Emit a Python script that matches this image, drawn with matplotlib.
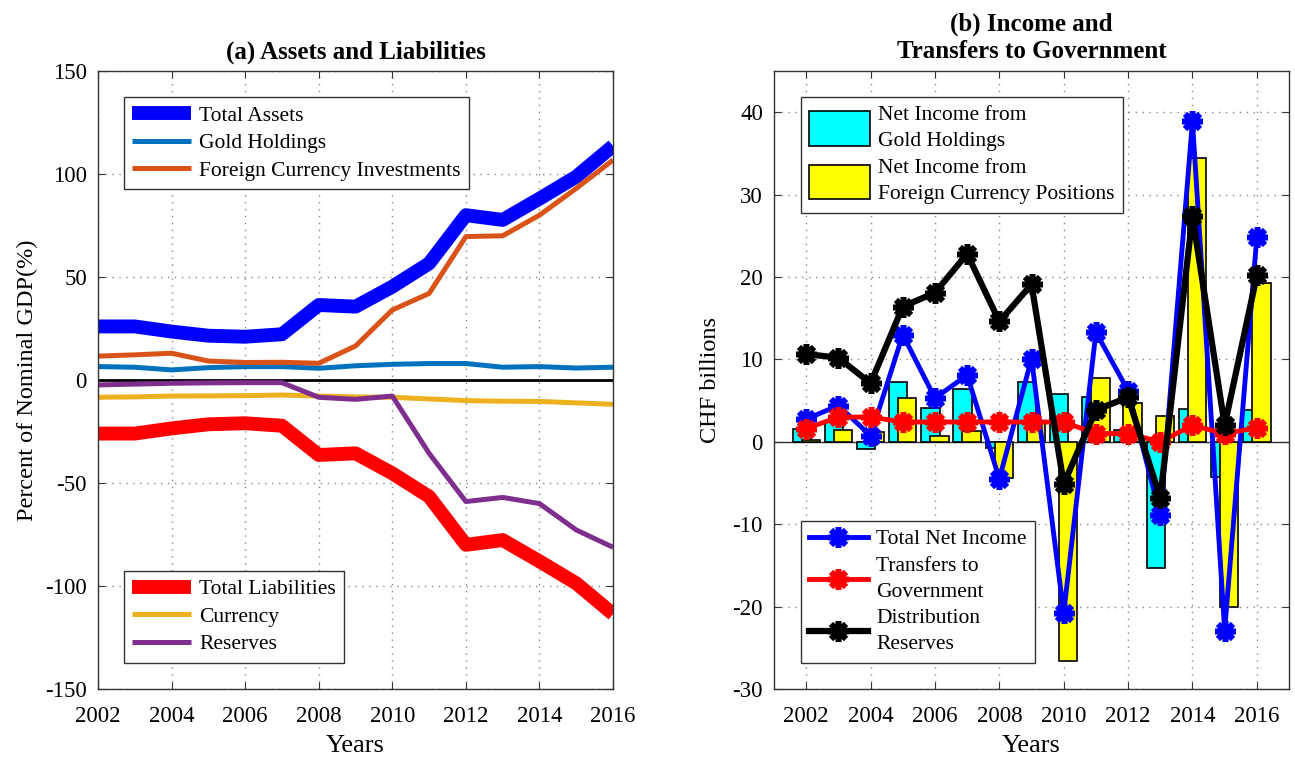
import numpy as np
import matplotlib
matplotlib.use("Agg")
from matplotlib import pyplot as plt

plt.rcParams['font.family'] = ['Liberation Serif', 'DejaVu Serif']
plt.rcParams['axes.unicode_minus'] = False

# Data
years = np.arange(2002, 2017)

# (a) percent of nominal GDP
total_assets = [26, 26, 23.5, 21.5, 21, 22.2, 36.4, 35.6, 45.3, 56.6, 80, 77.7, 88, 98.7, 113.6]
gold_holdings = [6.5, 6.2, 4.9, 6, 6.5, 6.5, 5.7, 6.9, 7.6, 8, 8, 6.2, 6.5, 5.8, 6.2]
foreign_inv = [11.6, 12.2, 13, 9.2, 8.5, 8.6, 8.1, 16.5, 34, 42, 69.6, 70, 80, 93, 106.8]
total_liab = [-26, -26, -23.5, -21.5, -21, -22.2, -36.4, -35.6, -45.3, -56.6, -80, -77.7, -88, -98.7, -113.6]
currency = [-8.4, -8.2, -7.8, -7.7, -7.6, -7.3, -7.8, -8.2, -8.4, -9.2, -10, -10.3, -10.4, -11.1, -11.8]
reserves = [-2.4, -2.0, -1.6, -1.4, -1.3, -1.3, -8.4, -9.4, -7.8, -35.6, -59, -57, -60, -72.8, -81.2]

# (b) CHF billions
gold_income = [1.5, 2.5, -0.9, 7.3, 4.1, 6.4, -0.7, 7.3, 5.8, 5.4, 1.4, -15.3, 4.0, -4.25, 3.9]
fx_income = [0.2, 1.4, 1.2, 5.3, 0.75, 1.3, -4.45, 2.3, -26.6, 7.8, 4.7, 3.1, 34.4, -20, 19.3]
total_net_income = [2.75, 4.4, 0.73, 13, 5.3, 8.1, -4.5, 10.1, -20.8, 13.3, 6.2, -8.9, 38.9, -22.9, 24.9]
transfers = [1.6, 3.0, 3.0, 2.4, 2.4, 2.4, 2.4, 2.4, 2.4, 1.0, 1.0, 0.0, 2.0, 1.0, 1.7]
distribution_reserves = [10.65, 10.2, 7.1, 16.4, 18.1, 22.8, 14.6, 19.1, -5.1, 3.85, 5.4, -6.8, 27.4, 2.0, 20.2]

fig = plt.figure(figsize=(12.95, 7.59), dpi=100)
ax1 = fig.add_axes([0.0757, 0.0922, 0.3977, 0.8143])
ax2 = fig.add_axes([0.5977, 0.0922, 0.3977, 0.8143])

fs = 15.5
tfs = 16.5

def style_axes(ax):
    ax.grid(True, linestyle=(0, (1, 4)), color='#888888', linewidth=1.0)
    ax.set_axisbelow(True)
    ax.tick_params(direction='in', top=True, right=True, labelsize=tfs, length=5,
                   color='#333333', pad=8)
    ax.tick_params(axis='x', pad=12)
    for s in ax.spines.values():
        s.set_color('#333333')
        s.set_linewidth(1.0)

def tidy_legend(leg, ls=1.3):
    leg.get_frame().set_linewidth(1.0)
    for t in leg.get_texts():
        t.set_linespacing(ls)

leg_kw = dict(fontsize=fs, frameon=True, fancybox=False, edgecolor='#333333',
              framealpha=1, handlelength=2.7, borderpad=0.4, labelspacing=0.35,
              handletextpad=0.4, borderaxespad=0)
ln = dict(solid_capstyle='butt', solid_joinstyle='round')

# ---- (a)
ax1.axhline(0, color='black', linewidth=2, zorder=1)
l1, = ax1.plot(years, total_assets, color=(0, 0, 1), linewidth=10, **ln)
l2, = ax1.plot(years, gold_holdings, color='#0072BD', linewidth=3.6, **ln)
l3, = ax1.plot(years, foreign_inv, color='#D95319', linewidth=3.6, **ln)
l4, = ax1.plot(years, total_liab, color=(1, 0, 0), linewidth=10, **ln)
l5, = ax1.plot(years, currency, color='#EDB120', linewidth=3.6, **ln)
l6, = ax1.plot(years, reserves, color='#7E2F8E', linewidth=3.6, **ln)
ax1.set_xlim(2002, 2016)
ax1.set_ylim(-150, 150)
ax1.set_xticks(np.arange(2002, 2017, 2))
ax1.set_yticks(np.arange(-150, 151, 50))
style_axes(ax1)
ax1.set_title("(a) Assets and Liabilities", fontsize=18, fontweight='bold', pad=9)
ax1.set_xlabel("Years", fontsize=19, labelpad=6)
ax1.set_ylabel("Percent of Nominal GDP(%)", fontsize=17.5, labelpad=5)

lega = ax1.legend([l1, l2, l3], ["Total Assets", "Gold Holdings", "Foreign Currency Investments"],
                  loc='upper left', bbox_to_anchor=(0.05, 0.958), **leg_kw)
tidy_legend(lega)
ax1.add_artist(lega)
legb = ax1.legend([l4, l5, l6], ["Total Liabilities", "Currency", "Reserves"],
                  loc='lower left', bbox_to_anchor=(0.05, 0.042), **leg_kw)
tidy_legend(legb)

# ---- (b)
ax2.axhline(0, color='#333333', linewidth=1.0, zorder=1)
bw = 0.57
b1 = ax2.bar(years - 0.14, gold_income, width=bw, color='cyan', edgecolor='black', linewidth=1.2, zorder=2)
b2 = ax2.bar(years + 0.14, fx_income, width=bw, color='yellow', edgecolor='black', linewidth=1.2, zorder=2)
mk = dict(marker=(8, 2, 0), markersize=15, markeredgewidth=4)
p1, = ax2.plot(years, total_net_income, color=(0, 0, 1), linewidth=3.5, zorder=3, **mk)
p2, = ax2.plot(years, transfers, color=(1, 0, 0), linewidth=3.5, zorder=4, **mk)
p3, = ax2.plot(years, distribution_reserves, color='black', linewidth=4.5, zorder=5, **mk)
ax2.set_xlim(2001, 2017)
ax2.set_ylim(-30, 45)
ax2.set_xticks(np.arange(2002, 2017, 2))
ax2.set_yticks(np.arange(-30, 41, 10))
style_axes(ax2)
ax2.set_title("(b) Income and\nTransfers to Government", fontsize=18, fontweight='bold',
              pad=9, linespacing=1.25)
ax2.set_xlabel("Years", fontsize=19, labelpad=6)
ax2.set_ylabel("CHF billions", fontsize=17.5, labelpad=8)

legc = ax2.legend([b1, b2], ["Net Income from\nGold Holdings", "Net Income from\nForeign Currency Positions"],
                  loc='upper left', bbox_to_anchor=(0.052, 0.958), fontsize=fs, frameon=True,
                  fancybox=False, edgecolor='#333333', framealpha=1, handlelength=2.8,
                  handleheight=2.1, borderpad=0.4, labelspacing=0.35, handletextpad=0.4,
                  borderaxespad=0)
tidy_legend(legc, 1.55)
ax2.add_artist(legc)
legd = ax2.legend([p1, p2, p3], ["Total Net Income", "Transfers to\nGovernment", "Distribution\nReserves"],
                  loc='lower left', bbox_to_anchor=(0.052, 0.042), **leg_kw)
tidy_legend(legd, 1.5)

fig.savefig("out.png", dpi=100)
